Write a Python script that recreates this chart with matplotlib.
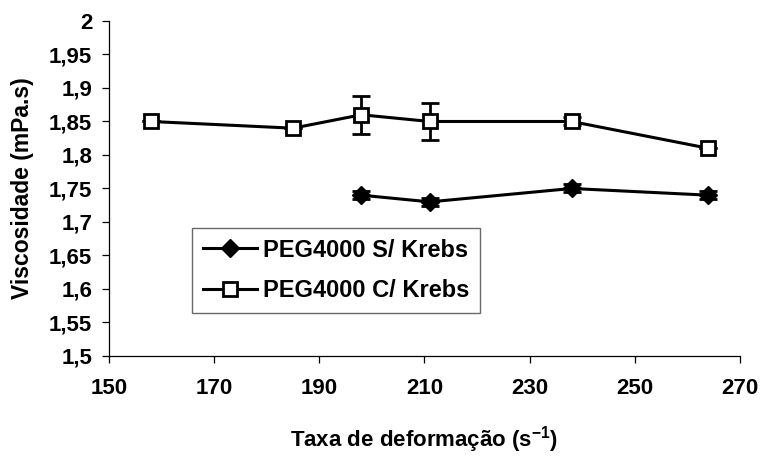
import matplotlib
matplotlib.use("Agg")
import matplotlib.pyplot as plt
from matplotlib.lines import Line2D
from matplotlib.ticker import FuncFormatter

plt.rcParams['font.family'] = ['Liberation Sans', 'DejaVu Sans']
plt.rcParams['font.weight'] = 'bold'
plt.rcParams['mathtext.fontset'] = 'custom'
plt.rcParams['mathtext.bf'] = 'Liberation Sans:bold'

# PEG4000 without Krebs
taxa_s = [198, 211, 238, 264]
visc_s = [1.74, 1.73, 1.75, 1.74]
err_s = [0.006, 0.006, 0.006, 0.006]

# PEG4000 with Krebs
taxa_c = [158, 185, 198, 211, 238, 264]
visc_c = [1.85, 1.84, 1.86, 1.85, 1.85, 1.81]
err_c = [0.0, 0.0, 0.028, 0.027, 0.006, 0.0]

labels = ['PEG4000 S/ Krebs', 'PEG4000 C/ Krebs']

fig = plt.figure(figsize=(7.61, 4.61), dpi=100)
ax = fig.add_axes([0.1432, 0.2278, 0.829, 0.7267])

style_s = dict(color='black', lw=2.2, marker='D', ms=9, mfc='black', mec='black')
style_c = dict(color='black', lw=2.2, marker='s', ms=10, mfc='white',
               mec='black', mew=2)

ax.errorbar(taxa_s, visc_s, yerr=err_s, capsize=6.5, elinewidth=2,
            capthick=2, **style_s)
ax.errorbar(taxa_c, visc_c, yerr=err_c, capsize=6.5, elinewidth=2,
            capthick=2, **style_c)

ax.set_xlim(150, 270)
ax.set_ylim(1.5, 2.0)
ax.set_xticks(range(150, 271, 20))
ax.set_yticks([1.5 + 0.05 * i for i in range(11)])
ax.yaxis.set_major_formatter(FuncFormatter(
    lambda v, p: ('%.2f' % v).rstrip('0').rstrip('.').replace('.', ',')))

for s in ['top', 'right']:
    ax.spines[s].set_visible(False)
for s in ['left', 'bottom']:
    ax.spines[s].set_linewidth(0.9)
ax.tick_params(direction='out', length=5, width=0.9, labelsize=16)
ax.tick_params(axis='x', pad=11)
ax.tick_params(axis='y', pad=7)

ax.set_xlabel('Taxa de deformação (s$^{\\mathbf{-1}}$)', fontsize=16,
              fontweight='bold', labelpad=18)
ax.set_ylabel('Viscosidade (mPa.s)', fontsize=16.5, fontweight='bold',
              labelpad=11)

# legend shows only line + marker, no error bars
handles = [Line2D([], [], **style_s), Line2D([], [], **style_c)]
leg = ax.legend(handles, labels, loc='upper left',
                bbox_to_anchor=(0.1315, 0.382), fontsize=17,
                frameon=True, fancybox=False, borderpad=0.45, handlelength=2.3,
                labelspacing=0.75, handletextpad=0.25, borderaxespad=0)
leg.get_frame().set_edgecolor('#444444')
leg.get_frame().set_linewidth(1.0)

fig.savefig('out.png', dpi=100)
